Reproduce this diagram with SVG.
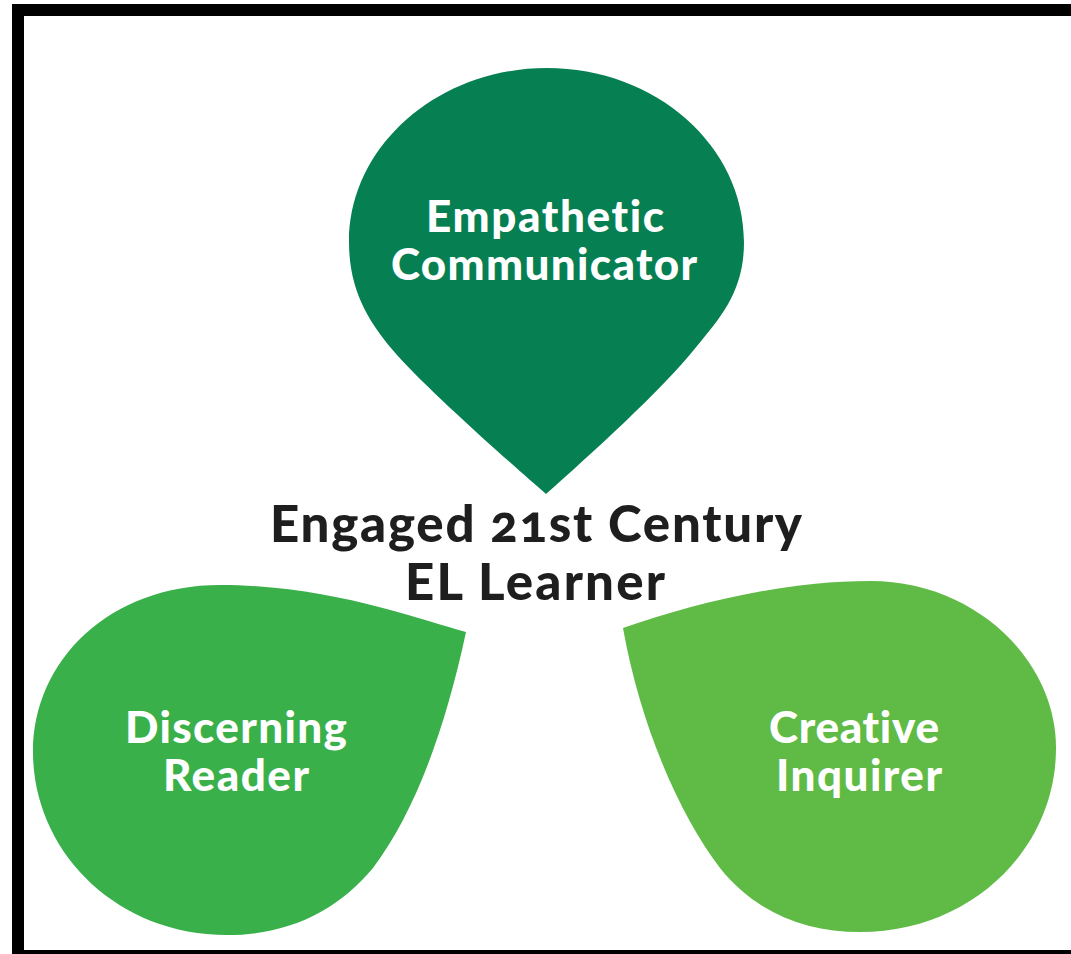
<svg xmlns="http://www.w3.org/2000/svg" width="1071" height="954" viewBox="0 0 1071 954">
<style>
text{font-family:"Lato","Open Sans","Liberation Sans",sans-serif;font-weight:900;text-anchor:middle;font-variant-ligatures:none;font-variant-numeric:oldstyle-nums}
.l{font-size:44px;fill:#fff}
.c{font-size:51px;fill:#1e1e1e}
</style>
<rect width="1071" height="954" fill="#fff"/>
<path d="M12 4H1071V16H24V950H1071V954H12Z" fill="#000"/>
<g id="empathetic">
<path d="M546 494C515 467 432 394 397 355C368 322 349 290 349 242C349 146 438 68 547 68C656 68 744 146 744 242C744 290 722 316 697 346C662 390 590 455 546 494Z" fill="#068052"/>
<text class="l" x="545" y="232" textLength="238">Empathetic</text>
<text class="l" x="544" y="280" textLength="306">Communicator</text>
</g>
<g id="discerning">
<path d="M466 632C420 620 330 585 220 585C110 585 33 660 33 752C33 850 115 935 227 935C290 935 338 910 373 868C415 812 445 730 466 632Z" fill="#39b04a"/>
<text class="l" x="236" y="743" textLength="222">Discerning</text>
<text class="l" x="236" y="791" textLength="146">Reader</text>
</g>
<g id="creative">
<path d="M623 628C690 605 780 581 870 581C975 581 1056 660 1056 748C1056 850 970 932 860 932C805 932 755 912 720 868C680 816 640 725 623 628Z" fill="#5fbb46"/>
<text class="l" x="854" y="743" textLength="170">Creative</text>
<text class="l" x="859" y="791" textLength="166">Inquirer</text>
</g>
<g id="center">
<text class="c" x="536" y="542" textLength="532">Engaged 21st Century</text>
<text class="c" x="535" y="600" textLength="260">EL Learner</text>
</g>
<g id="connectors"/>
</svg>
